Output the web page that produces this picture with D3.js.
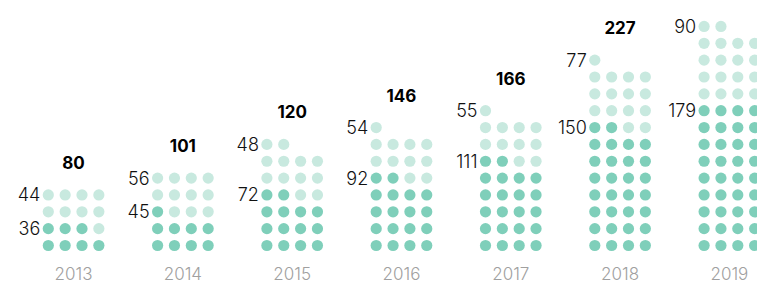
<!DOCTYPE html>
<html>
<head>
<meta charset="utf-8">
<script src="https://cdn.jsdelivr.net/npm/d3@7"></script>
<style>
  body { margin: 0; background: #fff; }
  text { font-family: Inter, "Noto Sans", sans-serif; }
</style>
</head>
<body>
<div id="chart"></div>
<script>
// dados
var years = [2013, 2014, 2015, 2016, 2017, 2018, 2019];
var totals = [80, 101, 120, 146, 166, 227, 269];
var darkValues = [36, 45, 72, 92, 111, 150, 179];
var lightValues = [44, 56, 48, 54, 55, 77, 90];
// número de pontos desenhados em cada ano
var darkDots = [7, 9, 14, 18, 22, 30, 36];
var lightDots = [9, 11, 12, 11, 11, 15, 18];

var width = 757, height = 286;
var cols = 4, step = 16.85, r = 5.6;

var svg = d3.select('#chart').append('svg')
  .attr('width', width)
  .attr('height', height);

// posição da primeira coluna de cada ano
var x = d3.scalePoint()
  .domain(years)
  .range([48.3, 704.1]);

// linhas de pontos, de baixo para cima
var y = d3.scaleLinear()
  .domain([0, 13])
  .range([245.5, 245.5 - 13 * step]);

var colX = d3.scaleLinear().domain([0, 1]).range([0, step]);

var groups = svg.selectAll('g.year')
  .data(years.map(function(yr, i) {
    return {
      year: yr, total: totals[i],
      dark: darkValues[i], light: lightValues[i],
      nDark: darkDots[i], nLight: lightDots[i]
    };
  }))
  .enter().append('g')
  .attr('class', 'year')
  .attr('transform', function(d) { return 'translate(' + x(d.year) + ',0)'; });

groups.each(function(d) {
  var g = d3.select(this);
  var n = d.nDark + d.nLight;
  var dots = d3.range(n).map(function(k) {
    return { col: k % cols, row: Math.floor(k / cols), dark: k < d.nDark };
  });

  g.selectAll('circle')
    .data(dots)
    .enter().append('circle')
    .attr('cx', function(p) { return colX(p.col); })
    .attr('cy', function(p) { return y(p.row); })
    .attr('r', r)
    .attr('fill', function(p) { return p.dark ? '#7fcfba' : '#c8e9df'; });

  var topDark = Math.floor((d.nDark - 1) / cols);
  var topRow = Math.floor((n - 1) / cols);

  g.append('text')
    .attr('x', -8)
    .attr('y', y(topDark))
    .attr('dy', '0.36em')
    .attr('text-anchor', 'end')
    .attr('font-size', 18)
    .attr('font-weight', 300)
    .attr('fill', '#111')
    .text(d.dark);

  g.append('text')
    .attr('x', -8)
    .attr('y', y(topRow))
    .attr('dy', '0.36em')
    .attr('text-anchor', 'end')
    .attr('font-size', 18)
    .attr('font-weight', 300)
    .attr('fill', '#111')
    .text(d.light);

  // total em negrito
  g.append('text')
    .attr('x', colX(1.5))
    .attr('y', y(topRow) - 26)
    .attr('text-anchor', 'middle')
    .attr('font-size', 17)
    .attr('font-weight', 'bold')
    .attr('fill', '#000')
    .text(d.total);

  // ano
  g.append('text')
    .attr('x', colX(1.5))
    .attr('y', 280)
    .attr('text-anchor', 'middle')
    .attr('font-size', 17)
    .attr('font-weight', 300)
    .attr('fill', '#a0a0a0')
    .text(d.year);
});
</script>
</body>
</html>
